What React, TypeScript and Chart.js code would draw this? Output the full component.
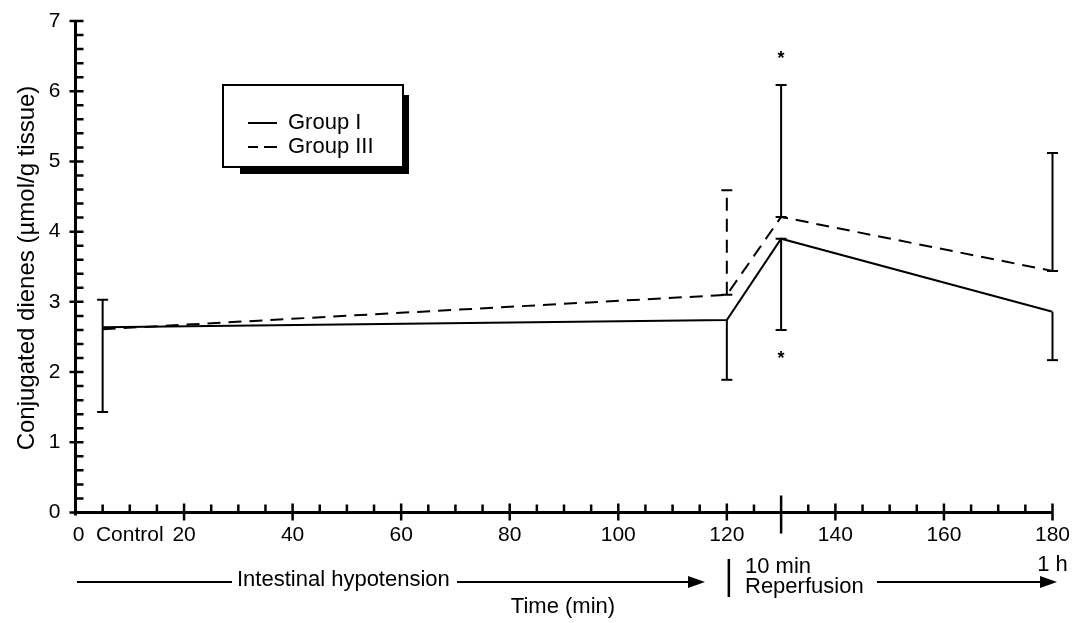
import React, { useEffect, useRef } from "react";
import { Chart, registerables } from "chart.js";

Chart.register(...registerables);

// ---- data ----
const timePoints = [5, 120, 130, 180];
const groupI = [2.64, 2.74, 3.9, 2.86];
const groupIII = [2.61, 3.1, 4.21, 3.44];
const groupILow = [1.43, 1.89, 2.6, 2.17];
const groupIHigh: (number | null)[] = [3.03, null, null, null];
const groupIIIHigh: (number | null)[] = [null, 4.59, 6.09, 5.12];
const asteriskTime = 130;
const asteriskValues = [6.55, 2.27];
const yTickValues = [0, 1, 2, 3, 4, 5, 6, 7];
const yTickLabels = ["0", "1", "2", "3", "4", "5", "6", "7"];
const xTickValues = [0, 20, 40, 60, 80, 100, 120, 140, 160, 180];
const xTickLabels = ["0", "20", "40", "60", "80", "100", "120", "140", "160", "180"];
const controlLabel = "Control";
const controlLabelTime = 10;
const seriesLabels = ["Group I", "Group III"];

const FONT = '"Liberation Sans", Arial, Helvetica, sans-serif';
const DASH = [13, 8];

const overlay = {
  id: "overlay",
  afterDatasetsDraw(chart: any) {
    const ctx: CanvasRenderingContext2D = chart.ctx;
    const xs = chart.scales.x;
    const ys = chart.scales.y;
    const X = (v: number) => xs.getPixelForValue(v);
    const Y = (v: number) => ys.getPixelForValue(v);
    const x0 = X(0);
    const y0 = Y(0);
    ctx.save();
    ctx.strokeStyle = "#000";
    ctx.fillStyle = "#000";
    ctx.lineCap = "butt";

    // axes
    ctx.lineWidth = 3;
    ctx.beginPath();
    ctx.moveTo(x0, Y(7));
    ctx.lineTo(x0, y0 + 3);
    ctx.moveTo(x0 - 1, y0);
    ctx.lineTo(X(180), y0);
    ctx.stroke();

    // y ticks
    ctx.lineWidth = 2.5;
    ctx.beginPath();
    for (let i = 0; i <= 35; i++) {
      const v = i / 5;
      const py = Y(v);
      const major = i % 5 === 0;
      ctx.moveTo(major ? x0 - 6 : x0, py);
      ctx.lineTo(x0 + 8, py);
    }
    // x ticks
    for (let t = 5; t <= 180; t += 5) {
      const px = X(t);
      if (t === 130) {
        ctx.moveTo(px, y0 - 17);
        ctx.lineTo(px, y0 + 21);
      } else if (t % 20 === 0) {
        ctx.moveTo(px, y0 - 9);
        ctx.lineTo(px, y0 + 8);
      } else {
        ctx.moveTo(px, y0 - 8);
        ctx.lineTo(px, y0);
      }
    }
    ctx.stroke();

    // tick labels
    ctx.font = `21px ${FONT}`;
    ctx.textAlign = "right";
    ctx.textBaseline = "middle";
    yTickValues.forEach((v, i) => ctx.fillText(yTickLabels[i], x0 - 15, Y(v)));
    ctx.textAlign = "center";
    xTickValues.forEach((v, i) => ctx.fillText(xTickLabels[i], X(v) + (v === 0 ? 3 : 0), y0 + 23));
    ctx.fillText(controlLabel, X(controlLabelTime), y0 + 23);

    // y title
    ctx.save();
    ctx.font = `24px ${FONT}`;
    ctx.translate(34, 268);
    ctx.rotate(-Math.PI / 2);
    ctx.textAlign = "center";
    ctx.textBaseline = "alphabetic";
    ctx.fillText("Conjugated dienes (\u00b5mol/g tissue)", 0, 0);
    ctx.restore();

    // error bars
    const cap = 5.5;
    const bar = (px: number, a: number, b: number, capA: boolean, capB: boolean, dashed: boolean) => {
      ctx.lineWidth = 2;
      ctx.setLineDash(dashed ? DASH : []);
      ctx.beginPath();
      ctx.moveTo(px, Y(a));
      ctx.lineTo(px, Y(b));
      ctx.stroke();
      ctx.setLineDash([]);
      ctx.beginPath();
      if (capA) {
        ctx.moveTo(px - cap, Y(a));
        ctx.lineTo(px + cap, Y(a));
      }
      if (capB) {
        ctx.moveTo(px - cap, Y(b));
        ctx.lineTo(px + cap, Y(b));
      }
      ctx.stroke();
    };
    timePoints.forEach((t, i) => {
      const px = X(t);
      const lo = groupILow[i];
      const hi = groupIHigh[i];
      if (hi != null) bar(px, lo, hi, true, true, false);
      else bar(px, groupI[i], lo, t === 130, true, false);
      const hi3 = groupIIIHigh[i];
      if (hi3 != null) bar(px, groupIII[i], hi3, true, true, t === 120);
    });

    // asterisks
    ctx.font = `bold 18px ${FONT}`;
    ctx.textAlign = "center";
    ctx.textBaseline = "alphabetic";
    asteriskValues.forEach((v) => ctx.fillText("*", X(asteriskTime), Y(v) + 11));

    // legend
    const lx = 223, ly = 85, lw = 180, lh = 82;
    ctx.fillRect(240, 95, 169, 79);
    ctx.fillStyle = "#fff";
    ctx.fillRect(lx, ly, lw, lh);
    ctx.fillStyle = "#000";
    ctx.lineWidth = 2;
    ctx.strokeRect(lx, ly, lw, lh);
    ctx.font = `22px ${FONT}`;
    ctx.textAlign = "left";
    ctx.textBaseline = "alphabetic";
    const rows = [129, 153];
    chart.data.datasets.forEach((ds: any, i: number) => {
      const by = rows[i];
      ctx.lineWidth = 2;
      ctx.beginPath();
      if (ds.borderDash && ds.borderDash.length) {
        ctx.moveTo(248, by - 6);
        ctx.lineTo(258, by - 6);
        ctx.moveTo(264, by - 6);
        ctx.lineTo(277, by - 6);
      } else {
        ctx.moveTo(248, by - 6);
        ctx.lineTo(277, by - 6);
      }
      ctx.stroke();
      ctx.fillText(ds.label, 288, by);
    });

    // bottom annotations
    ctx.font = `22px ${FONT}`;
    const arrowY = 582;
    const arrowHead = (tip: number) => {
      ctx.beginPath();
      ctx.moveTo(tip, arrowY);
      ctx.lineTo(tip - 17, arrowY - 6);
      ctx.lineTo(tip - 17, arrowY + 6);
      ctx.closePath();
      ctx.fill();
    };
    ctx.lineWidth = 2;
    ctx.beginPath();
    ctx.moveTo(77, arrowY);
    ctx.lineTo(232, arrowY);
    ctx.moveTo(457, arrowY);
    ctx.lineTo(695, arrowY);
    ctx.moveTo(877, arrowY);
    ctx.lineTo(1045, arrowY);
    ctx.stroke();
    arrowHead(705);
    arrowHead(1057);
    ctx.lineWidth = 2.5;
    ctx.beginPath();
    ctx.moveTo(X(120) + 2, 559);
    ctx.lineTo(X(120) + 2, 597);
    ctx.stroke();
    ctx.textAlign = "left";
    ctx.fillText("Intestinal hypotension", 237, 586);
    ctx.fillText("10 min", 745, 573);
    ctx.fillText("Reperfusion", 745, 593);
    ctx.textAlign = "center";
    ctx.fillText("1 h", X(180), 571);
    ctx.fillText("Time (min)", 563, 613);

    ctx.restore();
  },
};

export default function App() {
  const ref = useRef<HTMLCanvasElement | null>(null);
  useEffect(() => {
    if (!ref.current) return;
    const chart = new Chart(ref.current, {
      type: "line",
      data: {
        datasets: [
          {
            label: seriesLabels[0],
            data: timePoints.map((t, i) => ({ x: t, y: groupI[i] })),
            borderColor: "#000",
            borderWidth: 2,
            pointRadius: 0,
            fill: false,
            tension: 0,
          },
          {
            label: seriesLabels[1],
            data: timePoints.map((t, i) => ({ x: t, y: groupIII[i] })),
            borderColor: "#000",
            borderWidth: 2,
            borderDash: DASH,
            pointRadius: 0,
            fill: false,
            tension: 0,
          },
        ],
      },
      options: {
        animation: false,
        responsive: false,
        devicePixelRatio: 1,
        layout: { padding: { left: 75.5, right: 37.5, top: 21, bottom: 110.5 } },
        plugins: { legend: { display: false }, tooltip: { enabled: false }, title: { display: false } },
        scales: {
          x: { type: "linear", min: 0, max: 180, display: false },
          y: { type: "linear", min: 0, max: 7, display: false },
        },
      },
      plugins: [overlay],
    } as any);
    return () => chart.destroy();
  }, []);
  return (
    <div style={{ position: "absolute", left: 0, top: 0, width: 1090, height: 623, background: "#fff" }}>
      <canvas ref={ref} width={1090} height={623} style={{ display: "block" }} />
    </div>
  );
}
